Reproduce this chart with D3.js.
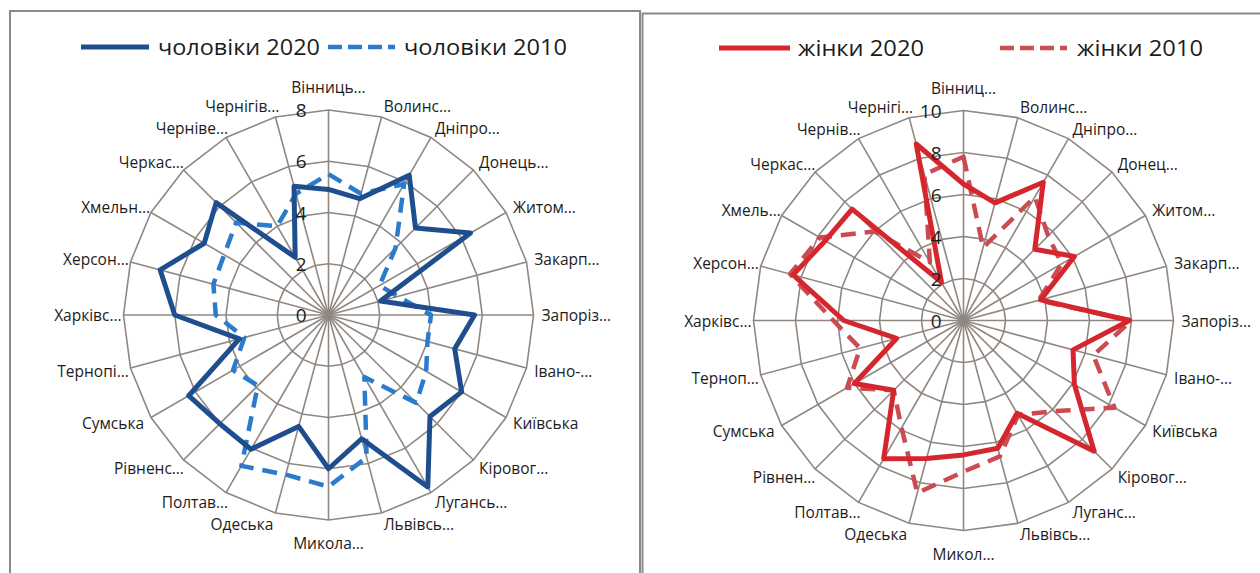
<!DOCTYPE html>
<html>
<head>
<meta charset="utf-8">
<script src="https://cdn.jsdelivr.net/npm/d3@7"></script>
<style>
  body { margin: 0; background: #fff; }
  text { font-family: "Open Sans", "Noto Sans", sans-serif; fill: #1c1c1c; }
</style>
</head>
<body>
<script>
// categories (Excel truncates the names differently on each chart)
const regionsMen = ["Вінниць…", "Волинс…", "Дніпро…", "Донець…", "Житом…", "Закарп…",
    "Запоріз…", "Івано-…", "Київська", "Кіровог…", "Лугансь…", "Львівсь…", "Микола…",
    "Одеська", "Полтав…", "Рівненс…", "Сумська", "Тернопі…", "Харківс…", "Херсон…",
    "Хмельн…", "Черкас…", "Черніве…", "Чернігів…"];
const regionsWomen = ["Вінниц…", "Волинс…", "Дніпро…", "Донец…", "Житом…", "Закарп…",
    "Запоріз…", "Івано-…", "Київська", "Кіровог…", "Луганс…", "Львівсь…", "Микол…",
    "Одеська", "Полтав…", "Рівнен…", "Сумська", "Терноп…", "Харківс…", "Херсон…",
    "Хмель…", "Черкас…", "Чернів…", "Чернігі…"];

// series values
const men2020 = [4.9, 4.7, 6.3, 4.8, 6.4, 2.1, 5.7, 5.1, 6.0, 5.6, 7.75, 5.0,
    6.0, 4.5, 6.05, 6.0, 6.3, 3.6, 6.0, 6.8, 5.6, 6.2, 2.6, 5.2];
const men2010 = [5.5, 4.9, 5.9, 3.7, 2.3, 2.8, 4.0, 4.0, 4.4, 4.85, 2.8, 5.75,
    6.7, 6.45, 6.8, 3.9, 4.3, 3.4, 4.4, 4.65, 4.7, 5.1, 4.0, 4.9];
const women2020 = [6.5, 5.8, 7.6, 4.8, 6.1, 3.8, 7.9, 5.4, 6.1, 8.8, 5.1, 6.3,
    6.4, 6.8, 7.6, 4.7, 6.0, 3.3, 5.7, 8.4, 7.6, 7.5, 2.1, 8.7];
const women2010 = [7.8, 3.6, 6.8, 5.7, 5.4, 3.7, 8.0, 6.4, 8.3, 6.1, 5.2, 6.7,
    7.2, 8.5, 5.9, 4.7, 6.4, 5.1, 6.2, 8.55, 7.9, 6.0, 3.2, 7.2];

// tick labels
const ticksMen = [0, 2, 4, 6, 8];
const ticksWomen = [0, 2, 4, 6, 8, 10];

// legend names
const legendMen = ["чоловіки 2020", "чоловіки 2010"];
const legendWomen = ["жінки 2020", "жінки 2010"];

const W = 1260, H = 573;
const grid_color = "#908781";

const svg = d3.select("body").append("svg")
    .attr("width", W)
    .attr("height", H);

svg.append("rect").attr("width", W).attr("height", H).attr("fill", "#fff");

function drawPanel(x, y, w, h) {
    svg.append("rect")
        .attr("x", x).attr("y", y)
        .attr("width", w).attr("height", h)
        .attr("fill", "none")
        .attr("stroke", "#8a8a8a")
        .attr("stroke-width", 2);
}

drawPanel(10, 11, 630, 600);
drawPanel(642.5, 13.5, 640, 600);

function drawRadar(cfg) {
    const g = svg.append("g").attr("transform", `translate(${cfg.cx},${cfg.cy})`);
    const n = cfg.labels.length;
    const angle = d3.scaleLinear().domain([0, n]).range([0, 2 * Math.PI]);
    const r = d3.scaleLinear().domain([0, cfg.max]).range([0, cfg.radius]);
    const idx = d3.range(n);

    // rings (Excel draws them as polygons)
    const ring = v => d3.lineRadial()
        .angle(i => angle(i))
        .radius(() => r(v))
        .curve(d3.curveLinearClosed)(idx);

    g.selectAll(".ring")
        .data(cfg.ticks.filter(t => t > 0))
        .join("path")
        .attr("class", "ring")
        .attr("d", ring)
        .attr("fill", "none")
        .attr("stroke", grid_color)
        .attr("stroke-width", 1.6);

    // spokes
    g.selectAll(".spoke")
        .data(idx)
        .join("line")
        .attr("class", "spoke")
        .attr("x1", 0).attr("y1", 0)
        .attr("x2", i => d3.pointRadial(angle(i), r(cfg.max))[0])
        .attr("y2", i => d3.pointRadial(angle(i), r(cfg.max))[1])
        .attr("stroke", grid_color)
        .attr("stroke-width", 1.6);

    // category labels
    g.selectAll(".cat")
        .data(cfg.labels)
        .join("text")
        .attr("class", "cat")
        .each(function (d, i) {
            const a = angle(i);
            const s = Math.sin(a), c = Math.cos(a);
            const p = d3.pointRadial(a, r(cfg.max) + 2);
            let anchor = "middle";
            let tx = p[0] + 6 * s;
            if (s > 0.01) anchor = "start";
            if (s < -0.01) {
                anchor = "end";
                if (d.endsWith("…")) tx += 6;
            }
            let ty = p[1] - c * 9;
            if (Math.abs(s) < 0.01) ty -= c * 12;
            d3.select(this)
                .attr("x", tx)
                .attr("y", ty)
                .attr("text-anchor", anchor)
                .attr("dominant-baseline", "central")
                .style("font-size", "15.5px")
                .text(d);
        });

    // series
    const line = d3.lineRadial()
        .angle((d, i) => angle(i))
        .radius(d => r(d))
        .curve(d3.curveLinearClosed);

    cfg.series.forEach(s => {
        g.append("path")
            .attr("d", line(s.values))
            .attr("fill", "none")
            .attr("stroke", s.color)
            .attr("stroke-width", s.width)
            .attr("stroke-linejoin", "round")
            .attr("stroke-dasharray", s.dash || null);
    });

    // tick labels along the top spoke
    g.selectAll(".tick")
        .data(cfg.ticks)
        .join("text")
        .attr("class", "tick")
        .attr("x", -22)
        .attr("y", d => -r(d))
        .attr("text-anchor", "end")
        .attr("dominant-baseline", "central")
        .style("font-size", "19px")
        .text(d => d);
}

function drawLegend(items) {
    items.forEach(it => {
        svg.append("line")
            .attr("x1", it.x1).attr("x2", it.x2)
            .attr("y1", it.y).attr("y2", it.y)
            .attr("stroke", it.color)
            .attr("stroke-width", it.width)
            .attr("stroke-dasharray", it.dash || null);
        svg.append("text")
            .attr("x", it.tx)
            .attr("y", it.y + 8)
            .attr("textLength", it.tw)
            .attr("lengthAdjust", "spacingAndGlyphs")
            .style("font-size", "22px")
            .text(it.name);
    });
}

const menSolid = "#1f4e8f", menDash = "#2b7bcc";
const womenSolid = "#d5262d", womenDash = "#cc4a52";

drawRadar({
    cx: 328.5, cy: 315, radius: 205, max: 8,
    ticks: ticksMen, labels: regionsMen,
    series: [
        { values: men2010, color: menDash, width: 4.5, dash: "15,9" },
        { values: men2020, color: menSolid, width: 5 }
    ]
});

drawRadar({
    cx: 963.5, cy: 320.5, radius: 210, max: 10,
    ticks: ticksWomen, labels: regionsWomen,
    series: [
        { values: women2010, color: womenDash, width: 4.5, dash: "15,9" },
        { values: women2020, color: womenSolid, width: 5 }
    ]
});

drawLegend([
    { name: legendMen[0], x1: 81, x2: 149, y: 47, color: menSolid, width: 5, tx: 158, tw: 162 },
    { name: legendMen[1], x1: 328, x2: 395, y: 47, color: menDash, width: 4.5, dash: "14,6", tx: 404, tw: 163 },
    { name: legendWomen[0], x1: 719, x2: 790, y: 48, color: womenSolid, width: 5, tx: 798, tw: 126 },
    { name: legendWomen[1], x1: 1000, x2: 1067, y: 48, color: womenDash, width: 4.5, dash: "14,6", tx: 1077, tw: 126 }
]);
</script>
</body>
</html>
